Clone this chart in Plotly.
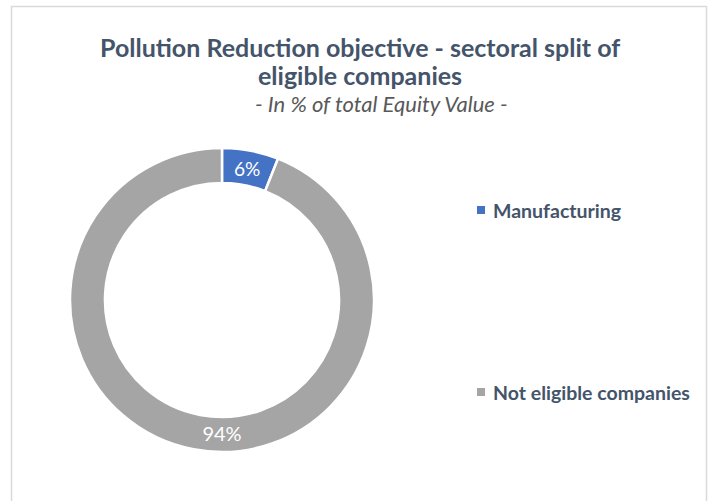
import plotly.graph_objects as go

categories = ["Manufacturing", "Not eligible companies"]
values = [6, 94]
colors = ["#4472C4", "#A5A5A5"]

title_line1 = "Pollution Reduction objective - sectoral split of"
title_line2 = "eligible companies"
subtitle = "- In % of total Equity Value -"

W, H = 715, 501
FONT = "Lato"
TXT = "#44546A"

fig = go.Figure()
fig.add_trace(go.Pie(
    labels=categories,
    values=values,
    hole=0.77,
    sort=False,
    direction="clockwise",
    rotation=0,
    marker=dict(colors=colors, line=dict(color="white", width=2.5)),
    texttemplate="%{percent:.0%}",
    textposition="inside",
    insidetextorientation="horizontal",
    textfont=dict(family=FONT, size=20, color="white"),
    domain=dict(x=[70 / W, 374 / W], y=[(H - 452) / H, (H - 148) / H]),
    showlegend=False,
    hoverinfo="label+percent",
))

annotations = [
    dict(text="<b>" + title_line1 + "</b>", x=360 / W, y=1 - 47 / H,
         font=dict(family=FONT, size=25, color=TXT)),
    dict(text="<b>" + title_line2 + "</b>", x=360 / W, y=1 - 75 / H,
         font=dict(family=FONT, size=25, color=TXT)),
    dict(text="<i>" + subtitle + "</i>", x=381 / W, y=1 - 103 / H,
         font=dict(family=FONT, size=22, color="#595959")),
]
shapes = [dict(type="rect", xref="paper", yref="paper",
               x0=11.5 / W, x1=706.5 / W, y0=-0.05, y1=1 - 6.5 / H,
               line=dict(color="#D9D9D9", width=1.5), fillcolor="rgba(0,0,0,0)")]
legend_y = [210, 392]
for cat, col, yy in zip(categories, colors, legend_y):
    annotations.append(dict(
        text="<b>%s</b>" % cat,
        x=491 / W, y=1 - yy / H, xanchor="left",
        font=dict(family=FONT, size=19.5, color=TXT)))
    shapes.append(dict(type="rect", xref="paper", yref="paper",
                       x0=477 / W, x1=485 / W,
                       y0=1 - (yy + 4) / H, y1=1 - (yy - 4) / H,
                       line=dict(width=0), fillcolor=col))
for a in annotations:
    a.setdefault("xanchor", "center")
    a.update(xref="paper", yref="paper", yanchor="middle", showarrow=False)

fig.update_layout(
    width=W, height=H,
    margin=dict(l=0, r=0, t=0, b=0),
    paper_bgcolor="white",
    plot_bgcolor="white",
    annotations=annotations,
    shapes=shapes,
)

fig.write_html("out.html", config={"displayModeBar": False},
               post_script="document.body.style.margin='0';")
